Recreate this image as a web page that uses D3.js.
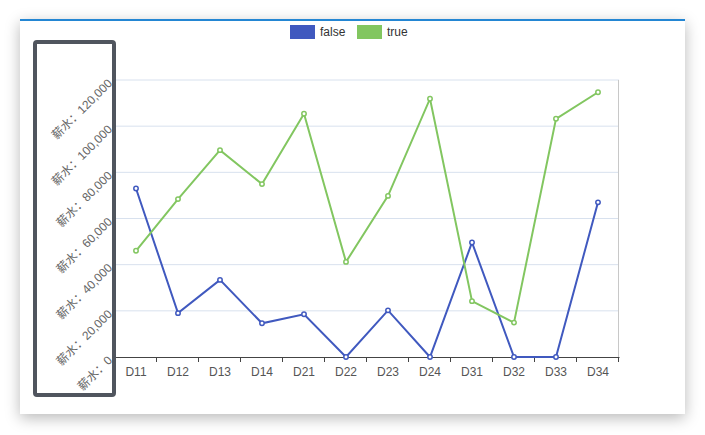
<!DOCTYPE html>
<html>
<head>
<meta charset="utf-8">
<script src="https://cdn.jsdelivr.net/npm/d3@7/dist/d3.min.js"></script>
<style>
  body { margin: 0; background: #fff; width: 705px; height: 435px; overflow: hidden; }
  #card {
    position: absolute; left: 20px; top: 19px; width: 665px; height: 395px;
    background: #fff; border-top: 2px solid #2386d3; box-sizing: border-box;
    box-shadow: 0 4px 14px rgba(0, 0, 0, 0.28);
  }
  #chart { position: absolute; left: 0; top: 0; }
  text { font-family: "Liberation Sans", "Noto Sans CJK SC", sans-serif; }
</style>
</head>
<body>
<div id="card"></div>
<div id="chart"></div>
<script>
// DATA
var categories = ["D11", "D12", "D13", "D14", "D21", "D22", "D23", "D24", "D31", "D32", "D33", "D34"];
var falseValues = [73000, 19000, 33400, 14600, 18500, 0, 20200, 0, 49600, 0, 0, 67000];
var trueValues = [46000, 68400, 89600, 74900, 105400, 41200, 69800, 111900, 24200, 14900, 103200, 114700];
var yTicks = [0, 20000, 40000, 60000, 80000, 100000, 120000];
var seriesNames = ["false", "true"];
var seriesColors = ["#4059bf", "#82c660"];

var width = 705, height = 435;
var margin = { top: 80, right: 86, bottom: 78, left: 115 };

var svg = d3.select("#chart")
  .append("svg")
  .attr("width", width)
  .attr("height", height);

var x = d3.scaleBand()
  .domain(categories)
  .range([margin.left, width - margin.right]);

var y = d3.scaleLinear()
  .domain([0, 120000])
  .range([height - margin.bottom, margin.top]);

// grid lines
svg.append("g")
  .selectAll("line")
  .data(yTicks.slice(1))
  .enter()
  .append("line")
  .attr("x1", margin.left)
  .attr("x2", width - margin.right)
  .attr("y1", function (d) { return y(d); })
  .attr("y2", function (d) { return y(d); })
  .attr("stroke", "#d8e1ee")
  .attr("stroke-width", 1);

// right border of plot
svg.append("line")
  .attr("x1", width - margin.right - 0.5)
  .attr("x2", width - margin.right - 0.5)
  .attr("y1", y(120000))
  .attr("y2", y(0))
  .attr("stroke", "#c8c8c8");

// x axis
var xAxis = svg.append("g")
  .attr("transform", "translate(0," + y(0) + ")")
  .call(d3.axisBottom(x).tickSize(0).tickPadding(10));
xAxis.select(".domain").attr("stroke", "#444");
xAxis.selectAll("text")
  .attr("fill", "#555")
  .style("font-size", "12px");

// boundary ticks
var bounds = categories.map(function (c) { return x(c); }).concat([x.range()[1]]);
svg.append("g")
  .selectAll("line")
  .data(bounds)
  .enter()
  .append("line")
  .attr("x1", function (d) { return Math.round(d) - 0.5; })
  .attr("x2", function (d) { return Math.round(d) - 0.5; })
  .attr("y1", y(0))
  .attr("y2", y(0) + 5)
  .attr("stroke", "#444");

// y labels box
svg.append("rect")
  .attr("x", 35)
  .attr("y", 42)
  .attr("width", 79)
  .attr("height", 353)
  .attr("rx", 2)
  .attr("fill", "none")
  .attr("stroke", "#50555e")
  .attr("stroke-width", 4);

// y labels
var fmt = d3.format(",");
svg.append("g")
  .selectAll("text")
  .data(yTicks)
  .enter()
  .append("text")
  .attr("transform", function (d) { return "translate(110," + (y(d) + 1) + ") rotate(-45)"; })
  .attr("text-anchor", "end")
  .attr("dy", "0.35em")
  .attr("fill", "#666")
  .style("font-size", "12px")
  .text(function (d) { return "薪水：" + fmt(d); });

// lines
var line = d3.line()
  .x(function (d, i) { return x(categories[i]) + x.bandwidth() / 2; })
  .y(function (d) { return y(d); });

[falseValues, trueValues].forEach(function (vals, k) {
  svg.append("path")
    .datum(vals)
    .attr("d", line)
    .attr("fill", "none")
    .attr("stroke", seriesColors[k])
    .attr("stroke-width", 2);

  svg.append("g")
    .selectAll("circle")
    .data(vals)
    .enter()
    .append("circle")
    .attr("cx", function (d, i) { return x(categories[i]) + x.bandwidth() / 2; })
    .attr("cy", function (d) { return y(d); })
    .attr("r", 2.2)
    .attr("fill", "#fff")
    .attr("stroke", seriesColors[k])
    .attr("stroke-width", 1.5);
});

// legend
var legendX = [290, 357];
seriesNames.forEach(function (name, k) {
  svg.append("rect")
    .attr("x", legendX[k])
    .attr("y", 25)
    .attr("width", 25)
    .attr("height", 14)
    .attr("fill", seriesColors[k]);
  svg.append("text")
    .attr("x", legendX[k] + 30)
    .attr("y", 32)
    .attr("dy", "0.35em")
    .attr("fill", "#333")
    .style("font-size", "12px")
    .text(name);
});
</script>
</body>
</html>
